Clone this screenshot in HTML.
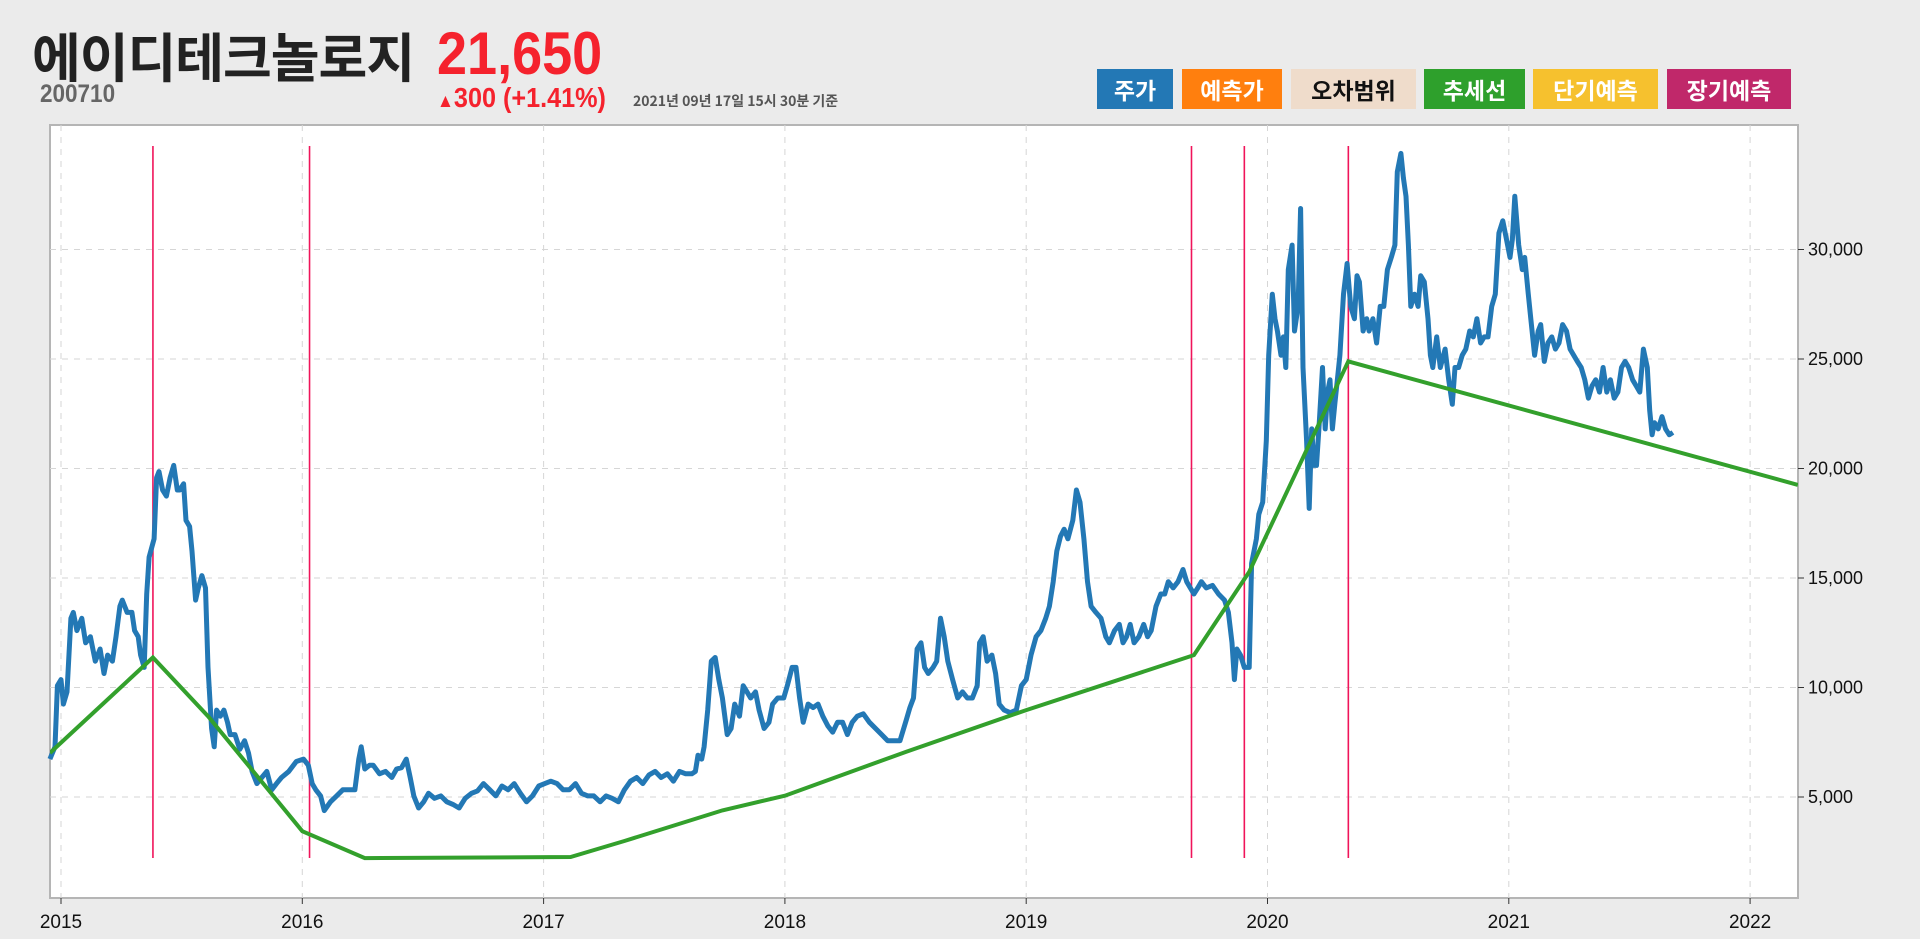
<!DOCTYPE html>
<html><head><meta charset="utf-8">
<style>
body{margin:0;width:1920px;height:939px;background:#ebebeb;font-family:"Liberation Sans","Noto Sans CJK KR",sans-serif;overflow:hidden;position:relative}
.abs{position:absolute;white-space:nowrap}
.btn{position:absolute;top:69px;height:40px;line-height:40px;text-align:center;font-weight:bold;font-size:23px;color:#fff;font-family:"Noto Sans CJK KR",sans-serif}
</style></head><body>
<div class="abs" style="left:32px;top:20px;font-size:53px;font-weight:bold;color:#222;font-family:'Noto Sans CJK KR',sans-serif;letter-spacing:-1px;line-height:70px">에이디테크놀로지</div>
<div class="abs" style="left:40px;top:80px;font-size:25px;font-weight:bold;color:#666;transform:scaleX(0.9);transform-origin:left">200710</div>
<div class="abs" style="left:437px;top:22px;font-size:60px;font-weight:bold;color:#f5222d;transform:scaleX(0.9);transform-origin:left;line-height:64px">21,650</div>
<div class="abs" style="left:437px;top:82px;font-size:28px;font-weight:bold;color:#f5222d;transform:scaleX(0.9);transform-origin:left"><span style="font-size:19px">▲</span>300 (+1.41%)</div>
<div class="abs" style="left:633px;top:91px;font-size:14px;font-weight:bold;color:#555;font-family:'Noto Sans CJK KR',sans-serif">2021년 09년 17일 15시 30분 기준</div>

<div class="btn" style="left:1097px;width:76px;background:#2378b5">주가</div>
<div class="btn" style="left:1182px;width:100px;background:#ff7f0e">예측가</div>
<div class="btn" style="left:1291px;width:125px;background:#efdccb;color:#111">오차범위</div>
<div class="btn" style="left:1424px;width:101px;background:#2ea02c">추세선</div>
<div class="btn" style="left:1533px;width:125px;background:#f6c12e">단기예측</div>
<div class="btn" style="left:1667px;width:124px;background:#c0286a">장기예측</div>

<svg id="chart" width="1920" height="939" style="position:absolute;left:0;top:0" xmlns="http://www.w3.org/2000/svg"></svg>
<script>
const yearTicks=[2015,2016,2017,2018,2019,2020,2021,2022];
const valueTicks=[5000,10000,15000,20000,25000,30000];
const eventDates=[2015.381,2016.030,2019.685,2019.904,2020.335];
const trendDates=[2014.954,2015.381,2015.609,2016.0,2016.259,2017.112,2017.335,2017.741,2018.0,2018.503,2019.0,2019.695,2019.924,2020.335,2022.198];
const trendValues=[7010,11370,8690,3440,2210,2260,2990,4390,5060,7070,8970,11480,15280,24890,19250];
const priceDates=[2014.954,2014.975,2014.985,2015.000,2015.010,2015.025,2015.041,2015.051,2015.066,2015.086,2015.102,2015.122,2015.142,2015.162,2015.178,2015.193,2015.213,2015.228,2015.244,2015.254,2015.274,2015.294,2015.305,2015.320,2015.330,2015.345,2015.355,2015.365,2015.386,2015.396,2015.406,2015.421,2015.437,2015.452,2015.467,2015.482,2015.492,2015.508,2015.518,2015.533,2015.543,2015.558,2015.569,2015.584,2015.599,2015.609,2015.624,2015.635,2015.645,2015.660,2015.675,2015.690,2015.701,2015.721,2015.741,2015.761,2015.777,2015.792,2015.812,2015.832,2015.853,2015.873,2015.893,2015.914,2015.944,2015.975,2016.005,2016.025,2016.041,2016.056,2016.076,2016.091,2016.117,2016.142,2016.168,2016.193,2016.218,2016.234,2016.244,2016.259,2016.279,2016.294,2016.320,2016.345,2016.371,2016.391,2016.411,2016.431,2016.447,2016.462,2016.482,2016.503,2016.523,2016.548,2016.574,2016.599,2016.624,2016.650,2016.675,2016.701,2016.726,2016.751,2016.777,2016.802,2016.827,2016.853,2016.878,2016.904,2016.929,2016.954,2016.980,2017.005,2017.030,2017.056,2017.081,2017.107,2017.132,2017.157,2017.183,2017.208,2017.234,2017.259,2017.284,2017.310,2017.335,2017.360,2017.386,2017.411,2017.437,2017.462,2017.487,2017.513,2017.538,2017.563,2017.589,2017.614,2017.629,2017.640,2017.655,2017.665,2017.680,2017.695,2017.711,2017.726,2017.741,2017.761,2017.777,2017.792,2017.812,2017.827,2017.843,2017.858,2017.878,2017.893,2017.914,2017.934,2017.949,2017.970,2017.995,2018.010,2018.030,2018.046,2018.061,2018.076,2018.096,2018.117,2018.137,2018.157,2018.178,2018.198,2018.218,2018.239,2018.259,2018.279,2018.300,2018.325,2018.350,2018.376,2018.401,2018.426,2018.452,2018.477,2018.503,2018.518,2018.533,2018.548,2018.564,2018.579,2018.594,2018.614,2018.629,2018.645,2018.660,2018.675,2018.695,2018.716,2018.736,2018.756,2018.777,2018.797,2018.807,2018.822,2018.838,2018.858,2018.873,2018.888,2018.909,2018.934,2018.959,2018.980,2019.000,2019.020,2019.041,2019.061,2019.081,2019.096,2019.112,2019.127,2019.142,2019.157,2019.173,2019.193,2019.208,2019.223,2019.239,2019.254,2019.269,2019.289,2019.310,2019.330,2019.345,2019.366,2019.386,2019.401,2019.416,2019.431,2019.447,2019.467,2019.487,2019.503,2019.518,2019.538,2019.558,2019.574,2019.589,2019.609,2019.629,2019.650,2019.665,2019.680,2019.695,2019.711,2019.726,2019.746,2019.772,2019.797,2019.822,2019.838,2019.853,2019.863,2019.873,2019.888,2019.904,2019.924,2019.934,2019.944,2019.954,2019.964,2019.980,2019.995,2020.005,2020.020,2020.031,2020.041,2020.056,2020.066,2020.076,2020.086,2020.102,2020.112,2020.127,2020.137,2020.147,2020.162,2020.173,2020.183,2020.193,2020.203,2020.213,2020.228,2020.239,2020.249,2020.259,2020.269,2020.279,2020.300,2020.315,2020.330,2020.345,2020.360,2020.371,2020.381,2020.396,2020.411,2020.421,2020.437,2020.452,2020.467,2020.482,2020.497,2020.513,2020.528,2020.538,2020.553,2020.563,2020.574,2020.584,2020.594,2020.609,2020.624,2020.635,2020.650,2020.665,2020.675,2020.685,2020.701,2020.716,2020.736,2020.751,2020.766,2020.777,2020.792,2020.807,2020.822,2020.838,2020.853,2020.868,2020.883,2020.898,2020.914,2020.929,2020.944,2020.959,2020.975,2020.990,2021.005,2021.015,2021.025,2021.041,2021.056,2021.066,2021.081,2021.091,2021.107,2021.122,2021.132,2021.147,2021.162,2021.178,2021.193,2021.208,2021.223,2021.239,2021.254,2021.269,2021.284,2021.300,2021.315,2021.330,2021.345,2021.360,2021.376,2021.391,2021.406,2021.421,2021.437,2021.452,2021.467,2021.482,2021.497,2021.513,2021.528,2021.543,2021.558,2021.574,2021.584,2021.594,2021.604,2021.619,2021.635,2021.650,2021.665,2021.680];
const priceValues=[6730,7290,10080,10360,9240,9800,13160,13430,12600,13160,12040,12320,11200,11760,10640,11480,11200,12320,13710,13990,13430,13430,12600,12320,11480,10920,14270,15950,16790,19580,19860,19020,18740,19580,20140,19020,19020,19300,17630,17350,16230,13990,14550,15110,14550,10920,8130,7290,8970,8690,8970,8410,7850,7850,7180,7570,7010,6170,5610,5890,6170,5330,5610,5890,6170,6620,6730,6450,5610,5330,5050,4380,4780,5050,5330,5330,5330,6730,7290,6280,6450,6450,6060,6170,5890,6280,6340,6730,5890,5050,4500,4780,5170,4940,5050,4780,4660,4500,4940,5170,5280,5610,5330,5050,5500,5330,5610,5170,4780,5050,5500,5610,5720,5610,5330,5330,5610,5170,5050,5050,4780,5050,4940,4780,5330,5720,5890,5610,6010,6170,5890,6060,5720,6170,6060,6060,6170,6910,6730,7290,8970,11200,11370,10360,9520,7850,8130,9240,8690,10080,9800,9520,9800,8970,8130,8410,9240,9520,9520,10080,10920,10920,9520,8410,9240,9080,9240,8690,8240,7960,8410,8410,7850,8410,8690,8800,8410,8130,7850,7570,7570,7570,8520,9080,9520,11760,12040,10920,10640,10920,11200,13160,12320,11200,10360,9520,9800,9520,9520,10080,12040,12320,11200,11480,10640,9240,8970,8850,8970,10080,10360,11480,12320,12600,13160,13710,14830,16230,16900,17230,16790,17630,19020,18460,16790,14830,13710,13430,13160,12320,12040,12600,12880,12040,12320,12880,12040,12320,12880,12320,12600,13710,14270,14270,14830,14550,14830,15390,14830,14550,14270,14550,14830,14550,14660,14270,13990,13430,12040,10360,11760,11480,10920,10920,15670,16230,16790,17910,18460,21260,25170,27960,26840,26280,25170,26010,24610,29080,30200,26280,27400,31870,24610,21260,18180,21810,20140,20140,21810,24610,21810,23490,24050,21810,22930,25170,27960,29360,27400,26840,28800,28520,26280,26840,26280,26840,25730,27400,27400,29080,29640,30200,33550,34390,33270,32430,30200,27400,27960,27400,28800,28520,26840,25170,24610,26010,24610,25450,24050,22930,24610,24610,25170,25450,26280,26010,26840,25730,26010,26010,27400,27960,30750,31310,30480,29640,30480,32430,30200,29080,29640,27960,26840,25170,26280,26570,24890,25730,26010,25450,25730,26570,26280,25450,25170,24890,24610,24050,23210,23770,24050,23490,24610,23490,24050,23210,23490,24610,24890,24610,24050,23770,23490,25450,24610,22650,21540,22090,21810,22370,21810,21540,21650];

const NS='http://www.w3.org/2000/svg';
const svg=document.getElementById('chart');
const PL=50,PT=125,PR=1798,PB=898;
function xs(d){return 61+(d-2015)*241.3;}
function ys(v){return 797-(v-5000)*0.0219;}
function mk(tag,attrs,parent){const e=document.createElementNS(NS,tag);for(const k in attrs)e.setAttribute(k,attrs[k]);(parent||svg).appendChild(e);return e;}

const bg=mk('rect',{x:PL,y:PT,width:PR-PL,height:PB-PT,fill:'#fff',stroke:'#b5b5b5','stroke-width':2});



yearTicks.forEach(y=>{
  const x=xs(y);
  const g=mk('line',{x1:x,x2:x,y1:PT,y2:PB,stroke:'#d6d6d6','stroke-dasharray':'6,6','stroke-width':1});
  
  
  const tk=mk('line',{x1:x,x2:x,y1:PB,y2:PB+6,stroke:'#333','stroke-width':1});
  
  
  const t=mk('text',{x:x,y:PB+30,'text-anchor':'middle','font-size':19,fill:'#111','font-family':'Liberation Sans Narrow, Liberation Sans, sans-serif'});
  t.textContent=y;
  
  
});
valueTicks.forEach(v=>{
  const y=ys(v);
  const g=mk('line',{x1:PL,x2:PR,y1:y,y2:y,stroke:'#d6d6d6','stroke-dasharray':'6,6','stroke-width':1});
  
  
  const tk=mk('line',{x1:PR,x2:PR+6,y1:y,y2:y,stroke:'#333','stroke-width':1});
  
  
  const t=mk('text',{x:PR+10,y:y+6,'font-size':18,fill:'#111','font-family':'Liberation Sans, sans-serif'});
  t.textContent=v.toLocaleString('en-US');
  
  
});
eventDates.forEach(d=>{
  const l=mk('line',{x1:xs(d),x2:xs(d),y1:146,y2:858,stroke:'#f0145a','stroke-width':1.6});
  
  
});
let pp='';
priceDates.forEach((d,i)=>{pp+=(i?'L':'M')+xs(d).toFixed(1)+','+ys(priceValues[i]).toFixed(1);});
const price=mk('path',{d:pp,fill:'none',stroke:'#2378b5','stroke-width':5,'stroke-linejoin':'round'});


let tp='';
trendDates.forEach((d,i)=>{tp+=(i?'L':'M')+xs(d).toFixed(1)+','+ys(trendValues[i]).toFixed(1);});
const clip=mk('clipPath',{id:'pc'});mk('rect',{x:PL,y:PT,width:PR-PL,height:PB-PT},clip);
const trend=mk('path',{d:tp,fill:'none',stroke:'#33a02c','stroke-width':4,'clip-path':'url(#pc)'});


</script>
</body></html>
